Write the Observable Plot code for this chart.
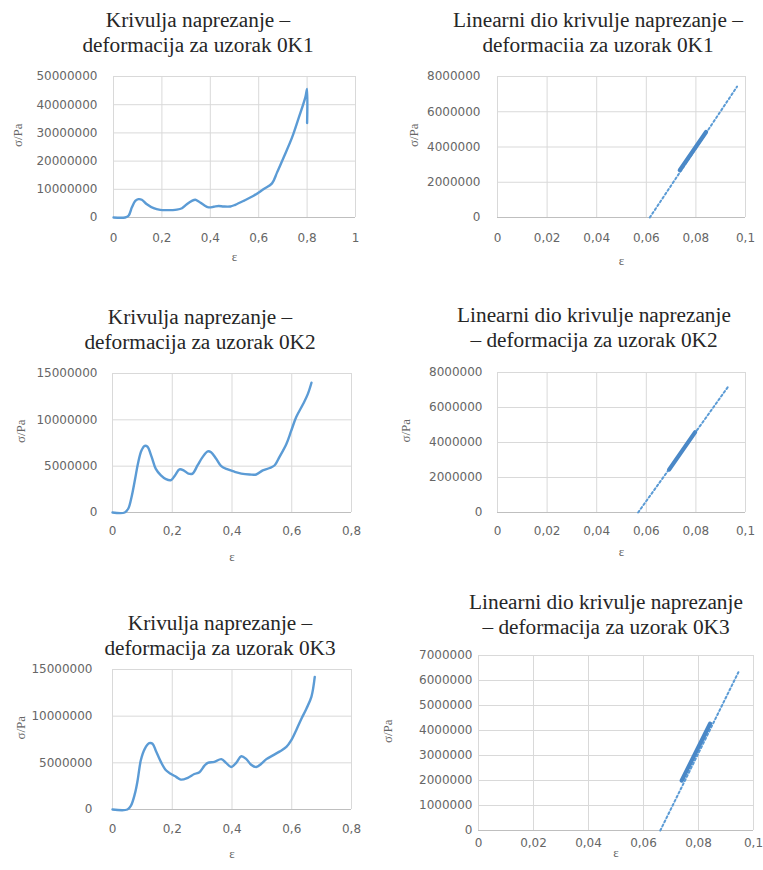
<!DOCTYPE html>
<html>
<head>
<meta charset="utf-8">
<script src="https://cdn.jsdelivr.net/npm/d3@7"></script>
<script src="https://cdn.jsdelivr.net/npm/@observablehq/plot@0.6"></script>
<style>
  html, body { margin: 0; padding: 0; background: #fff; overflow: hidden; }
  #page { position: relative; width: 763px; height: 870px; background: #fff; }
  .title { position: absolute; font-family: "Liberation Serif", "Times New Roman", serif; font-size: 21.3px; color: #262626; text-align: center; white-space: nowrap; line-height: 25px; }
  .panel { position: absolute; }
</style>
</head>
<body>
<div id="page"></div>
<script>
// ---------- DATA ----------
// Sample 0K1 – full stress–strain curve
const strain0K1 = [0, 0.048, 0.062, 0.076, 0.09, 0.103, 0.117, 0.138, 0.166, 0.193, 0.22, 0.262, 0.283, 0.303, 0.324, 0.338, 0.352, 0.372, 0.393, 0.414, 0.434, 0.455, 0.483, 0.503, 0.538, 0.579, 0.621, 0.655, 0.676, 0.703, 0.738, 0.766, 0.793, 0.8, 0.8];
const stress0K1 = [0, 0, 0.6e6, 3.6e6, 5.9e6, 6.5e6, 6.3e6, 4.7e6, 3.3e6, 2.7e6, 2.6e6, 2.8e6, 3.3e6, 4.7e6, 5.9e6, 6.3e6, 5.7e6, 4.5e6, 3.6e6, 3.8e6, 4.1e6, 3.9e6, 3.9e6, 4.5e6, 5.9e6, 7.7e6, 10.1e6, 12.1e6, 16.0e6, 21.3e6, 28.4e6, 35.5e6, 42.7e6, 45.6e6, 33.5e6];

// Sample 0K2 – full stress–strain curve
const strain0K2 = [0, 0.041, 0.053, 0.064, 0.075, 0.086, 0.097, 0.108, 0.117, 0.131, 0.145, 0.162, 0.179, 0.196, 0.209, 0.224, 0.238, 0.254, 0.268, 0.285, 0.302, 0.319, 0.33, 0.347, 0.364, 0.386, 0.408, 0.431, 0.459, 0.481, 0.503, 0.526, 0.543, 0.559, 0.582, 0.598, 0.615, 0.638, 0.654, 0.666];
const stress0K2 = [0, 0, 0.43e6, 1.7e6, 3.5e6, 5.4e6, 6.7e6, 7.2e6, 7.1e6, 6.0e6, 4.7e6, 4.0e6, 3.6e6, 3.5e6, 4.0e6, 4.65e6, 4.55e6, 4.2e6, 4.2e6, 5.1e6, 6.0e6, 6.6e6, 6.5e6, 5.8e6, 5.0e6, 4.65e6, 4.4e6, 4.2e6, 4.1e6, 4.1e6, 4.55e6, 4.8e6, 5.1e6, 6.0e6, 7.4e6, 8.8e6, 10.3e6, 11.7e6, 12.8e6, 14.0e6];

// Sample 0K3 – full stress–strain curve
const strain0K3 = [0, 0.05, 0.062, 0.075, 0.084, 0.095, 0.108, 0.123, 0.134, 0.145, 0.162, 0.179, 0.196, 0.213, 0.229, 0.252, 0.274, 0.291, 0.308, 0.319, 0.341, 0.364, 0.38, 0.397, 0.414, 0.431, 0.448, 0.464, 0.481, 0.498, 0.515, 0.537, 0.559, 0.582, 0.598, 0.615, 0.632, 0.649, 0.666, 0.677];
const stress0K3 = [0, 0, 0.43e6, 1.7e6, 3.1e6, 5.3e6, 6.5e6, 7.1e6, 7.05e6, 6.3e6, 5.1e6, 4.2e6, 3.8e6, 3.5e6, 3.2e6, 3.4e6, 3.8e6, 4.0e6, 4.7e6, 5.0e6, 5.1e6, 5.4e6, 5.0e6, 4.55e6, 5.0e6, 5.7e6, 5.4e6, 4.8e6, 4.55e6, 4.9e6, 5.4e6, 5.8e6, 6.2e6, 6.7e6, 7.4e6, 8.5e6, 9.7e6, 10.8e6, 12.1e6, 14.2e6];

// Linear parts (measured segment) and their linear trend lines
const linStrain0K1 = [0.0735, 0.0841];
const linStress0K1 = [2.68e6, 4.85e6];
const trendStrain0K1 = [0.0614, 0.0966];
const trendStress0K1 = [0, 7.43e6];

const linStrain0K2 = [0.0692, 0.0797];
const linStress0K2 = [2.45e6, 4.59e6];
const trendStrain0K2 = [0.0567, 0.0928];
const trendStress0K2 = [0, 7.15e6];

const linStrain0K3 = [0.0739, 0.0842];
const linStress0K3 = [2.0e6, 4.27e6];
const trendStrain0K3 = [0.0661, 0.0945];
const trendStress0K3 = [0, 6.33e6];

// Axis ticks
const xTicksFull1 = [0, 0.2, 0.4, 0.6, 0.8, 1];
const xTicksFull = [0, 0.2, 0.4, 0.6, 0.8];
const xTicksLin = [0, 0.02, 0.04, 0.06, 0.08, 0.1];
const yTicks50M = [0, 10000000, 20000000, 30000000, 40000000, 50000000];
const yTicks15M = [0, 5000000, 10000000, 15000000];
const yTicks8M = [0, 2000000, 4000000, 6000000, 8000000];
const yTicks7M = [0, 1000000, 2000000, 3000000, 4000000, 5000000, 6000000, 7000000];

// Titles
const titles = [
  ["Krivulja naprezanje –", "deformacija za uzorak 0K1"],
  ["Linearni dio krivulje naprezanje –", "deformaciia za uzorak 0K1"],
  ["Krivulja naprezanje –", "deformacija za uzorak 0K2"],
  ["Linearni dio krivulje naprezanje", "– deformacija za uzorak 0K2"],
  ["Krivulja naprezanje –", "deformacija za uzorak 0K3"],
  ["Linearni dio krivulje naprezanje", "– deformacija za uzorak 0K3"]
];
const xLabel = "ε";
const yLabel = "σ/Pa";

// ---------- BUILD ----------
const zip = (xs, ys) => xs.map((e, i) => ({e, s: ys[i]}));
const fmtX = d => String(d).replace(".", ",");
const fmtY = d => String(d);

const BLUE = "#5b9bd5";
const GRID = "#d9d9d9";
const TICK = "#666666";

// layout: box (left, top, width, height), frame (L, R, T, B)
const panels = [
  {box: [0, 56, 380, 216], frame: [113, 355, 76, 217], xd: [0, 1], xt: xTicksFull1, yd: [0, 50000000], yt: yTicks50M,
   full: zip(strain0K1, stress0K1), yPad: 16, xPad: 16, eDy: 43, sDx: -96, title: [198, 7.5], t: 0},
  {box: [380, 56, 383, 216], frame: [497, 745, 76, 217], xd: [0, 0.1], xt: xTicksLin, yd: [0, 8000000], yt: yTicks8M,
   lin: zip(linStrain0K1, linStress0K1), trend: zip(trendStrain0K1, trendStress0K1), yPad: 17, xPad: 16, eDy: 47, sDx: -84, title: [598, 7.5], t: 1},
  {box: [0, 353, 380, 216], frame: [112, 351, 373, 512], xd: [0, 0.8], xt: xTicksFull, yd: [0, 15000000], yt: yTicks15M,
   full: zip(strain0K2, stress0K2), yPad: 15, xPad: 14, eDy: 48, sDx: -92, title: [200, 304.5], t: 2},
  {box: [380, 352, 383, 216], frame: [497, 745, 372, 512], xd: [0, 0.1], xt: xTicksLin, yd: [0, 8000000], yt: yTicks8M,
   lin: zip(linStrain0K2, linStress0K2), trend: zip(trendStrain0K2, trendStress0K2), yPad: 15, xPad: 14, eDy: 43, sDx: -92, title: [594, 302.5], t: 3},
  {box: [0, 649, 380, 221], frame: [112, 351, 669, 809], xd: [0, 0.8], xt: xTicksFull, yd: [0, 15000000], yt: yTicks15M,
   full: zip(strain0K3, stress0K3), yPad: 20, xPad: 15, eDy: 48, sDx: -92, title: [220, 610.5], t: 4},
  {box: [380, 635, 383, 235], frame: [478, 753, 655, 830], xd: [0, 0.1], xt: xTicksLin, yd: [0, 7000000], yt: yTicks7M,
   lin: zip(linStrain0K3, linStress0K3), trend: zip(trendStrain0K3, trendStress0K3), yPad: 6, xPad: 8, eDy: 26, sDx: -91, title: [606, 589.5], t: 5}
];

const page = document.getElementById("page");

for (const p of panels) {
  const [left, top, width, height] = p.box;
  const [L, R, T, B] = p.frame;
  const marks = [
    Plot.gridX(p.xt, {stroke: GRID, strokeOpacity: 1, strokeWidth: 1}),
    Plot.gridY(p.yt, {stroke: GRID, strokeOpacity: 1, strokeWidth: 1}),
    Plot.ruleY([0], {stroke: "#bfbfbf", strokeWidth: 1}),
    Plot.axisX(p.xt, {tickSize: 0, tickPadding: p.xPad, tickFormat: fmtX, label: null, fill: TICK, fontFamily: "DejaVu Sans", fontSize: 12}),
    Plot.axisY(p.yt, {tickSize: 0, tickPadding: p.yPad, tickFormat: fmtY, label: null, fill: TICK, fontFamily: "DejaVu Sans", fontSize: 12}),
  ];
  if (p.full) {
    marks.push(Plot.line(p.full, {x: "e", y: "s", stroke: BLUE, strokeWidth: 2.4, curve: "catmull-rom"}));
  }
  if (p.trend) {
    marks.push(Plot.line(p.trend, {x: "e", y: "s", stroke: BLUE, strokeWidth: 2, strokeDasharray: "2,2.6"}));
    marks.push(Plot.line(p.lin, {x: "e", y: "s", stroke: "#4a88c7", strokeWidth: 4.2, strokeLinecap: "round"}));
  }
  marks.push(Plot.text([xLabel], {frameAnchor: "bottom", dy: p.eDy, fill: TICK, fontFamily: "Liberation Serif", fontSize: 13}));
  marks.push(Plot.text([yLabel], {frameAnchor: "left", dx: p.sDx, rotate: -90, fill: TICK, fontFamily: "Liberation Serif", fontSize: 13}));

  const svg = Plot.plot({
    width, height,
    marginLeft: L - left, marginRight: left + width - R,
    marginTop: T - top, marginBottom: top + height - B,
    x: {type: "linear", domain: p.xd, axis: null},
    y: {type: "linear", domain: p.yd, axis: null},
    style: {background: "transparent", overflow: "visible"},
    marks
  });
  const holder = document.createElement("div");
  holder.className = "panel";
  holder.style.left = left + "px";
  holder.style.top = top + "px";
  holder.appendChild(svg);
  page.appendChild(holder);

  const t = document.createElement("div");
  t.className = "title";
  t.style.left = (p.title[0] - 250) + "px";
  t.style.width = "500px";
  t.style.top = p.title[1] + "px";
  t.innerHTML = titles[p.t].map(s => `<div>${s}</div>`).join("");
  page.appendChild(t);
}
</script>
</body>
</html>
